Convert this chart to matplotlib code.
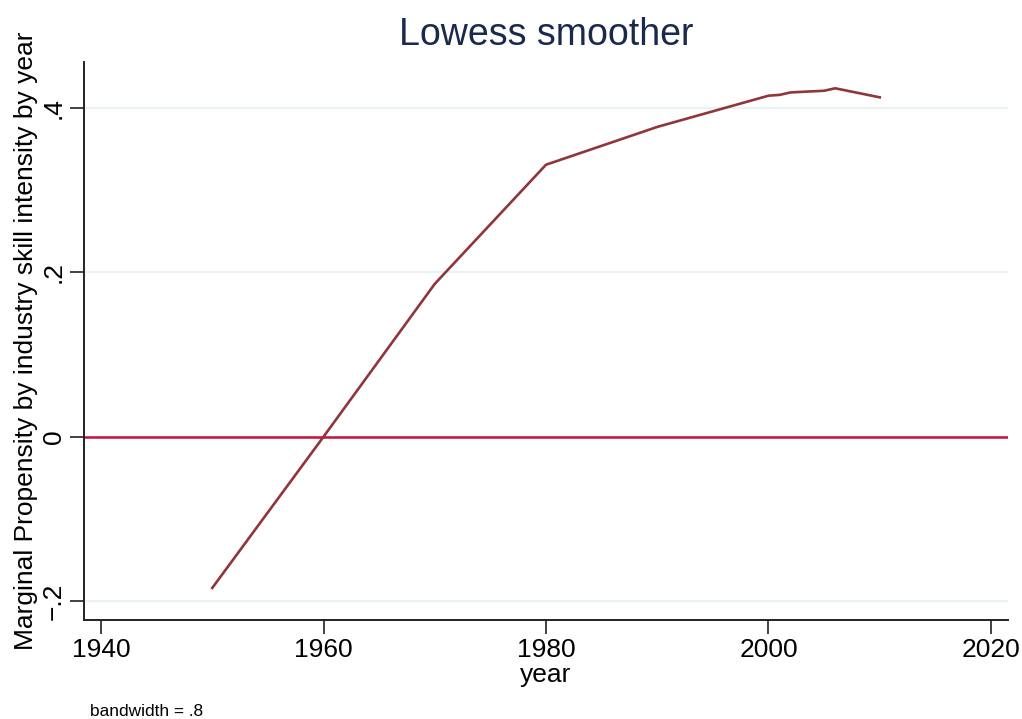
import matplotlib.pyplot as plt

plt.rcParams["font.family"] = ["Liberation Sans", "DejaVu Sans"]

# lowess fit by year
years = [1950, 1960, 1970, 1980, 1990, 2000, 2001, 2002, 2005, 2006, 2010]
propensity = [-0.184, 0.0, 0.186, 0.331, 0.377, 0.415, 0.416, 0.419, 0.421, 0.424, 0.413]

xticks = [1940, 1960, 1980, 2000, 2020]
yticks = [-0.2, 0, 0.2, 0.4]
ytick_labels = ["\u2212.2", "0", ".2", ".4"]

fig = plt.figure(figsize=(10.22, 7.19), dpi=100)
ax = fig.add_axes([84 / 1022, 1 - 620 / 719, 924 / 1022, 558 / 719])

for y in yticks:
    ax.axhline(y, color="#eaf2f3", linewidth=1.6, zorder=0)
ax.axhline(0, color="#c4123f", linewidth=1.8, zorder=2)
ax.plot(years, propensity, color="#903539", linewidth=1.9, zorder=3)

ax.set_xlim(1938.47, 2021.53)
ax.set_ylim(-0.223, 0.456)
ax.set_xticks(xticks)
ax.set_yticks(yticks)
ax.set_yticklabels(ytick_labels, rotation=90, va="center")
ax.tick_params(axis="both", labelsize=19, length=10, width=1.3, color="#333333")
ax.tick_params(axis="y", pad=3)
ax.tick_params(axis="x", pad=3)

for side in ("top", "right"):
    ax.spines[side].set_visible(False)
for side in ("left", "bottom"):
    ax.spines[side].set_linewidth(1.4)
    ax.spines[side].set_color("#222222")

ax.set_xlabel("year", fontsize=19, labelpad=1)
ax.set_ylabel("Marginal Propensity by industry skill intensity by year", fontsize=19, labelpad=3)
fig.text(546 / 1022, 1 - 35 / 719, "Lowess smoother", ha="center", va="center",
         fontsize=27, color="#1a2a4e")
fig.text(90 / 1022, 1 - 712 / 719, "bandwidth = .8", ha="left", va="center", fontsize=12.4)

fig.savefig("out.png", dpi=100, facecolor="white")
